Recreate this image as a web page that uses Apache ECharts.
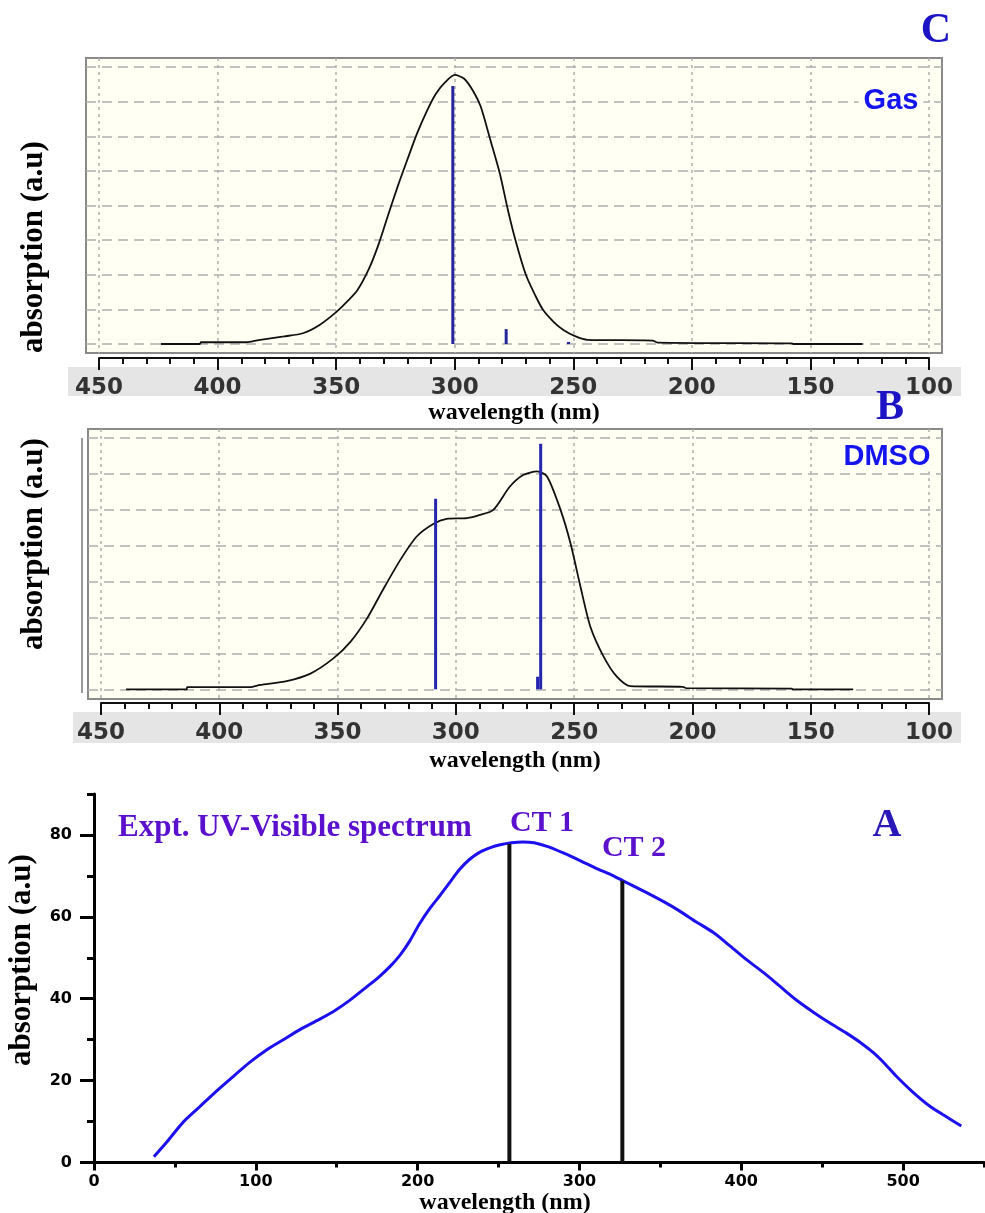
<!DOCTYPE html>
<html><head><meta charset="utf-8">
<script src="https://cdn.jsdelivr.net/npm/echarts@6.0.0/dist/echarts.min.js"></script>
<style>html,body{margin:0;padding:0;background:#fff}#chart{width:985px;height:1213px}</style>
</head><body><div id="chart"></div>
<script>
// ---------- Panel C : gas phase ----------
const gasWavelength = [424, 407.5, 407, 388, 382, 372, 364, 357, 350, 345, 341, 336, 332, 328, 324, 320, 316, 312, 308, 304, 300, 296, 292, 289, 285, 281, 277.5, 274, 270, 266, 262.7, 258, 254, 249, 244, 216.5, 214.5, 157.7, 157.3, 128];
const gasAbsorption = [0, 0, 0.05, 0.05, 0.12, 0.22, 0.31, 0.55, 0.92, 1.25, 1.56, 2.2, 2.9, 3.74, 4.56, 5.32, 6.06, 6.69, 7.22, 7.56, 7.77, 7.66, 7.28, 6.85, 5.9, 4.93, 3.85, 2.9, 2.0, 1.4, 0.98, 0.62, 0.4, 0.22, 0.12, 0.10, 0.04, 0.02, 0, 0];
const gasStickWavelength = [300.8, 278.3, 252];
const gasStickStrength = [7.45, 0.43, 0.06];

// ---------- Panel B : DMSO ----------
const dmsoWavelength = [439.3, 413.7, 413.5, 386.9, 382.7, 371.4, 361.6, 351.7, 344.5, 337.4, 330.4, 323.4, 316.5, 309.5, 303.8, 295.3, 289.7, 284.1, 277.1, 271.5, 265.6, 261.4, 255.7, 251.5, 247.3, 243.1, 237.5, 231.9, 226.3, 204.0, 202.5, 157.9, 157.7, 132.0];
const dmsoAbsorption = [0, 0, 0.06, 0.06, 0.12, 0.23, 0.43, 0.86, 1.32, 1.98, 2.81, 3.6, 4.25, 4.6, 4.74, 4.76, 4.85, 4.99, 5.64, 5.96, 6.06, 5.92, 4.99, 4.06, 2.86, 1.74, 0.91, 0.35, 0.09, 0.07, 0.03, 0.02, 0, 0];
const dmsoStickWavelength = [308.5, 264.1, 265.4];
const dmsoStickStrength = [5.30, 6.83, 0.35];

// ---------- Panel A : experimental ----------
const exptWavelength = [37, 45, 55, 65, 75, 86, 96, 106.6, 117, 127, 138, 148, 158, 168.5, 176, 183, 189, 195, 201, 208, 214, 220, 226, 232, 238.5, 245, 251, 258, 265, 272, 280, 290, 300, 310, 320, 327, 340, 352, 362, 372, 383, 393, 403, 414, 424, 434, 445, 455, 465, 474, 482, 489, 496, 506, 517, 527, 536];
const exptAbsorption = [1.4, 5.0, 9.8, 13.5, 17.2, 21.0, 24.4, 27.5, 30.0, 32.4, 34.7, 36.9, 39.6, 42.9, 45.3, 47.9, 50.6, 54.0, 58.2, 62.3, 65.3, 68.5, 71.6, 74.0, 75.8, 76.9, 77.6, 78.1, 78.3, 78.1, 77.2, 75.6, 73.8, 71.9, 70.2, 68.8, 66.2, 63.7, 61.4, 58.8, 56.1, 52.9, 49.6, 46.3, 43.0, 39.7, 36.6, 34.0, 31.6, 29.2, 26.7, 24.0, 21.0, 17.2, 13.6, 11.1, 8.9];
const ctWavelength = [256.7, 326.5];
const ctAbsorption = [77.8, 68.8];

// ---------- tick values ----------
const topTicks = [100, 150, 200, 250, 300, 350, 400, 450];
const levelsC = [0, 1, 2, 3, 4, 5, 6, 7, 8];
const levelsB = [0, 1, 2, 3, 4, 5, 6, 7];
const exptXMajor = [0, 100, 200, 300, 400, 500];
const exptYMajor = [0, 20, 40, 60, 80];

const pairs = (xs, ys) => xs.map((x, i) => [x, ys[i]]);

const SERIF = '"Liberation Serif", "Times New Roman", serif';
const SANS = '"Liberation Sans", Arial, sans-serif';
const WIDE = '"DejaVu Sans", Verdana, sans-serif';
const dotV = {color: '#aeaeae', width: 1.5, type: [3, 4]};
const dashH = {color: '#aeaeae', width: 1.5, type: [10, 6]};
const CREAM = '#fffff3';

function frameX(gridIndex, min, max) {
  return {gridIndex, type: 'value', inverse: true, min, max, position: 'bottom',
    axisLine: {show: false}, axisLabel: {show: false},
    axisTick: {show: false, customValues: topTicks},
    splitLine: {show: true, lineStyle: dotV}};
}
function frameY(gridIndex, min, max, levels) {
  return {gridIndex, type: 'value', min, max, position: 'left',
    axisLine: {show: false}, axisLabel: {show: false},
    axisTick: {show: false, customValues: levels},
    splitLine: {show: true, lineStyle: dashH}};
}
function rulerX(gridIndex, nameGap) {
  return {gridIndex, type: 'value', inverse: true, min: 100, max: 450, interval: 50, position: 'bottom',
    axisLine: {show: true, onZero: false, lineStyle: {color: '#111', width: 2}},
    axisTick: {show: true, length: 12, lineStyle: {color: '#111', width: 2}},
    minorTick: {show: true, splitNumber: 5, length: 6, lineStyle: {color: '#111', width: 2}},
    axisLabel: {show: true, margin: 19, color: '#333', fontFamily: WIDE, fontWeight: 'bold', fontSize: 23},
    splitLine: {show: false},
    name: 'wavelength (nm)', nameLocation: 'middle', nameGap,
    nameTextStyle: {fontFamily: SERIF, fontWeight: 'bold', fontSize: 24, color: '#000'}};
}
const dummyY = gi => ({gridIndex: gi, type: 'value', show: false, min: 0, max: 1});
const label = (x, y, text, font, fill, extra) => Object.assign({type: 'text', x, y, z: 20,
  style: Object.assign({text, align: 'center', verticalAlign: 'middle', font, fill}, extra || {})});

const option = {
  backgroundColor: '#ffffff',
  animation: false,
  grid: [
    {left: 86, top: 58, width: 856, height: 295, show: true, backgroundColor: CREAM, borderColor: '#8a8a8a', borderWidth: 2, containLabel: false, outerBoundsMode: 'none'},
    {left: 99, top: 357, width: 830, height: 1, containLabel: false, outerBoundsMode: 'none'},
    {left: 88, top: 429, width: 854, height: 270, show: true, backgroundColor: CREAM, borderColor: '#8a8a8a', borderWidth: 2, containLabel: false, outerBoundsMode: 'none'},
    {left: 101, top: 702, width: 828, height: 1, containLabel: false, outerBoundsMode: 'none'},
    {left: 94, top: 794, width: 890, height: 368.5, containLabel: false, outerBoundsMode: 'none'}
  ],
  xAxis: [
    frameX(0, 94.5, 455.5),
    rulerX(1, 42),
    frameX(2, 94.5, 455.4),
    rulerX(3, 46),
    {gridIndex: 4, type: 'value', min: 0, max: 550, interval: 50, position: 'bottom',
      axisLine: {show: true, onZero: false, lineStyle: {color: '#000', width: 3}},
      axisTick: {show: true, length: 5, lineStyle: {color: '#000', width: 3}},
      axisLabel: {show: true, margin: 11, color: '#000', fontFamily: WIDE, fontWeight: 'bold', fontSize: 16,
        formatter: v => (v % 100 === 0 ? String(v) : '')},
      splitLine: {show: false},
      name: 'wavelength (nm)', nameLocation: 'middle', nameGap: 26,
      nameTextStyle: {fontFamily: SERIF, fontWeight: 'bold', fontSize: 24, color: '#000', padding: [0, 68, 0, 0]}},
    {gridIndex: 4, type: 'value', min: 0, max: 550, position: 'bottom',
      axisLine: {show: false}, axisLabel: {show: false}, splitLine: {show: false},
      axisTick: {show: true, length: 8, customValues: exptXMajor, lineStyle: {color: '#000', width: 3}}}
  ],
  yAxis: [
    frameY(0, -0.26, 8.26, levelsC),
    dummyY(1),
    frameY(2, -0.27, 7.24, levelsB),
    dummyY(3),
    {gridIndex: 4, type: 'value', min: 0, max: 90, interval: 10, position: 'left',
      axisLine: {show: true, onZero: false, lineStyle: {color: '#000', width: 3}},
      axisTick: {show: true, length: 7, lineStyle: {color: '#000', width: 3}},
      axisLabel: {show: true, margin: 22, color: '#000', fontFamily: WIDE, fontWeight: 'bold', fontSize: 16,
        formatter: v => (v % 20 === 0 && v <= 80 ? String(v) : '')},
      splitLine: {show: false}},
    {gridIndex: 4, type: 'value', min: 0, max: 90, position: 'left',
      axisLine: {show: false}, axisLabel: {show: false}, splitLine: {show: false},
      axisTick: {show: true, length: 14, customValues: exptYMajor, lineStyle: {color: '#000', width: 3}}}
  ],
  series: [
    {type: 'line', name: 'Gas', xAxisIndex: 0, yAxisIndex: 0, data: pairs(gasWavelength, gasAbsorption),
      showSymbol: false, smooth: 0.25, lineStyle: {color: '#111', width: 1.8}, z: 3},
    {type: 'bar', name: 'Gas sticks', xAxisIndex: 0, yAxisIndex: 0, data: pairs(gasStickWavelength, gasStickStrength),
      barWidth: 3, itemStyle: {color: '#25259c'}, z: 4},
    {type: 'line', name: 'DMSO', xAxisIndex: 2, yAxisIndex: 2, data: pairs(dmsoWavelength, dmsoAbsorption),
      showSymbol: false, smooth: 0.25, lineStyle: {color: '#111', width: 1.8}, z: 3},
    {type: 'bar', name: 'DMSO sticks', xAxisIndex: 2, yAxisIndex: 2, data: pairs(dmsoStickWavelength, dmsoStickStrength),
      barWidth: 3, itemStyle: {color: '#2525b0'}, z: 4},
    {type: 'line', name: 'Expt', xAxisIndex: 4, yAxisIndex: 4, data: pairs(exptWavelength, exptAbsorption),
      showSymbol: false, smooth: 0.25, lineStyle: {color: '#1c10ee', width: 3}, z: 3},
    {type: 'bar', name: 'CT', xAxisIndex: 4, yAxisIndex: 4, data: pairs(ctWavelength, ctAbsorption),
      barWidth: 4, itemStyle: {color: '#111'}, z: 4}
  ],
  graphic: [
    {type: 'rect', z: -5, shape: {x: 68, y: 367, width: 893, height: 29}, style: {fill: '#e5e5e5'}},
    {type: 'rect', z: -5, shape: {x: 73, y: 712, width: 888, height: 31}, style: {fill: '#e5e5e5'}},
    {type: 'line', z: -5, shape: {x1: 82, y1: 438, x2: 82, y2: 693}, style: {stroke: '#9a9a9a', lineWidth: 2}},
    Object.assign(label(34, 247, 'absorption (a.u)', 'bold 31px ' + SERIF, '#000'), {rotation: Math.PI / 2}),
    Object.assign(label(34, 544, 'absorption (a.u)', 'bold 31px ' + SERIF, '#000'), {rotation: Math.PI / 2}),
    Object.assign(label(22, 960, 'absorption (a.u)', 'bold 31px ' + SERIF, '#000'), {rotation: Math.PI / 2}),
    label(936, 31, 'C', 'bold 42px ' + SERIF, '#1c14c4'),
    label(890, 408, 'B', 'bold 42px ' + SERIF, '#1c14c4'),
    label(887, 826, 'A', 'bold 40px ' + SERIF, '#2a18b8'),
    label(891, 101, 'Gas', 'bold 29px ' + SANS, '#1414ee', {backgroundColor: CREAM, padding: [0, 5]}),
    label(887, 457, 'DMSO', 'bold 29px ' + SANS, '#1414ee', {backgroundColor: CREAM, padding: [0, 3]}),
    label(118, 828, 'Expt. UV-Visible spectrum', 'bold 31px ' + SERIF, '#5a10cc', {align: 'left'}),
    label(542, 823, 'CT 1', 'bold 30px ' + SERIF, '#5a10cc'),
    label(634, 848, 'CT 2', 'bold 30px ' + SERIF, '#5a10cc')
  ]
};

const chart = echarts.init(document.getElementById('chart'), null, {renderer: 'canvas'});
chart.setOption(option);
</script></body></html>
